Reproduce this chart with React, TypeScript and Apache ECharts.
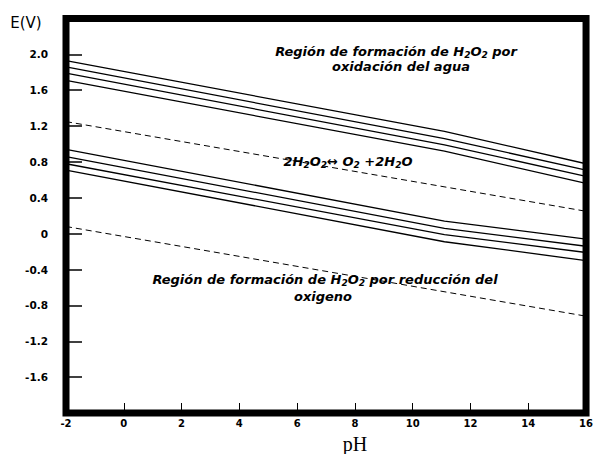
import React, { useEffect, useRef } from "react";
import * as echarts from "echarts";

// pH positions of the line vertices
const pHSolid = [-2, 11.1, 16];
const pHDashed = [-2, 16];

// Upper group (oxidation of water)
const upper1 = [1.93, 1.14, 0.78];
const upper2 = [1.86, 1.06, 0.71];
const upper3 = [1.79, 0.99, 0.64];
const upper4 = [1.71, 0.92, 0.56];

// Lower group
const lower1 = [0.94, 0.14, -0.06];
const lower2 = [0.86, 0.06, -0.14];
const lower3 = [0.78, -0.01, -0.21];
const lower4 = [0.71, -0.09, -0.3];

// Dashed boundaries
const dashedUpper = [1.25, 0.25];
const dashedLower = [0.08, -0.92];

const xTicks = [-2, 0, 2, 4, 6, 8, 10, 12, 14, 16];

const solidGroups = [upper1, upper2, upper3, upper4, lower1, lower2, lower3, lower4];
const dashedGroups = [dashedUpper, dashedLower];

const annFont = {
  fontFamily: "DejaVu Sans",
  fontWeight: "bold" as const,
  fontStyle: "italic" as const,
  fill: "#000",
};

const rich = {
  n: { fontFamily: "DejaVu Sans", fontWeight: "bold", fontStyle: "italic", fontSize: 13, lineHeight: 16, color: "#000" },
  s: { fontFamily: "DejaVu Sans", fontWeight: "bold", fontStyle: "italic", fontSize: 9, lineHeight: 9, verticalAlign: "bottom", color: "#000" },
};

function annText(text: string, x: number, y: number) {
  return {
    type: "text",
    x,
    y,
    silent: true,
    style: {
      text,
      rich,
      ...annFont,
      fontSize: 13,
      align: "center",
      verticalAlign: "middle",
      textAlign: "center",
      textVerticalAlign: "middle",
    },
  };
}

export default function App() {
  const ref = useRef<HTMLDivElement>(null);
  useEffect(() => {
    document.body.style.margin = "0";
    if (!ref.current) return;
    const chart = echarts.init(ref.current, null, { renderer: "svg" });
    const series: any[] = [];
    solidGroups.forEach((g) => {
      series.push({
        type: "line",
        data: pHSolid.map((x, i) => [x, g[i]]),
        symbol: "none",
        silent: true,
        lineStyle: { color: "#000", width: 1.3 },
      });
    });
    dashedGroups.forEach((g) => {
      series.push({
        type: "line",
        data: pHDashed.map((x, i) => [x, g[i]]),
        symbol: "none",
        silent: true,
        lineStyle: { color: "#000", width: 1, type: [6, 4] },
      });
    });
    chart.setOption({
      animation: false,
      backgroundColor: "#fff",
      grid: {
        left: 66,
        right: 7,
        top: 18.5,
        bottom: 41,
        show: true,
        borderWidth: 7,
        borderColor: "#000",
        backgroundColor: "transparent",
      },
      xAxis: {
        type: "value",
        min: xTicks[0],
        max: xTicks[xTicks.length - 1],
        interval: 2,
        axisLine: { show: false, onZero: false },
        axisTick: { show: true, inside: true, length: 10, lineStyle: { color: "#000", width: 1 } },
        splitLine: { show: false },
        axisLabel: {
          color: "#000",
          fontFamily: "DejaVu Sans",
          fontWeight: "bold",
          fontSize: 10,
          margin: 5,
        },
      },
      yAxis: {
        type: "value",
        min: -2,
        max: 2.4,
        interval: 0.4,
        axisLine: { show: false, onZero: false },
        axisTick: { show: true, inside: true, length: 16, lineStyle: { color: "#000", width: 1.5 } },
        splitLine: { show: false },
        axisLabel: {
          color: "#000",
          fontFamily: "DejaVu Sans",
          fontWeight: "bold",
          fontSize: 10.5,
          margin: 18,
          formatter: (v: number) => {
            if (Math.abs(v - 2.4) < 1e-6 || Math.abs(v + 2) < 1e-6) return "";
            if (Math.abs(v) < 1e-9) return "0";
            return v.toFixed(1);
          },
        },
      },
      graphic: [
        {
          type: "text",
          x: 26,
          y: 23,
          silent: true,
          style: {
            text: "E(V)",
            fontFamily: "DejaVu Sans",
            fontSize: 15,
            fill: "#000",
            align: "center",
            verticalAlign: "middle",
            textAlign: "center",
            textVerticalAlign: "middle",
          },
        },
        {
          type: "text",
          x: 355,
          y: 444,
          silent: true,
          style: {
            text: "pH",
            fontFamily: "Liberation Serif",
            fontSize: 20,
            fill: "#000",
            align: "center",
            verticalAlign: "middle",
            textAlign: "center",
            textVerticalAlign: "middle",
          },
        },
        annText("{n|Región de formación de H}{s|2}{n|O}{s|2}{n| por}", 396, 51),
        annText("{n|oxidación del agua}", 401, 66),
        annText("{n|2H}{s|2}{n|O}{s|2}{n|↔ O}{s|2}{n| +2H}{s|2}{n|O}", 348, 161),
        annText("{n|Región de formación de H}{s|2}{n|O}{s|2}{n| por reducción del}", 325, 279),
        annText("{n|oxigeno}", 323, 296),
      ],
      series,
    });
    return () => chart.dispose();
  }, []);
  return <div ref={ref} style={{ width: 596, height: 454 }} />;
}
